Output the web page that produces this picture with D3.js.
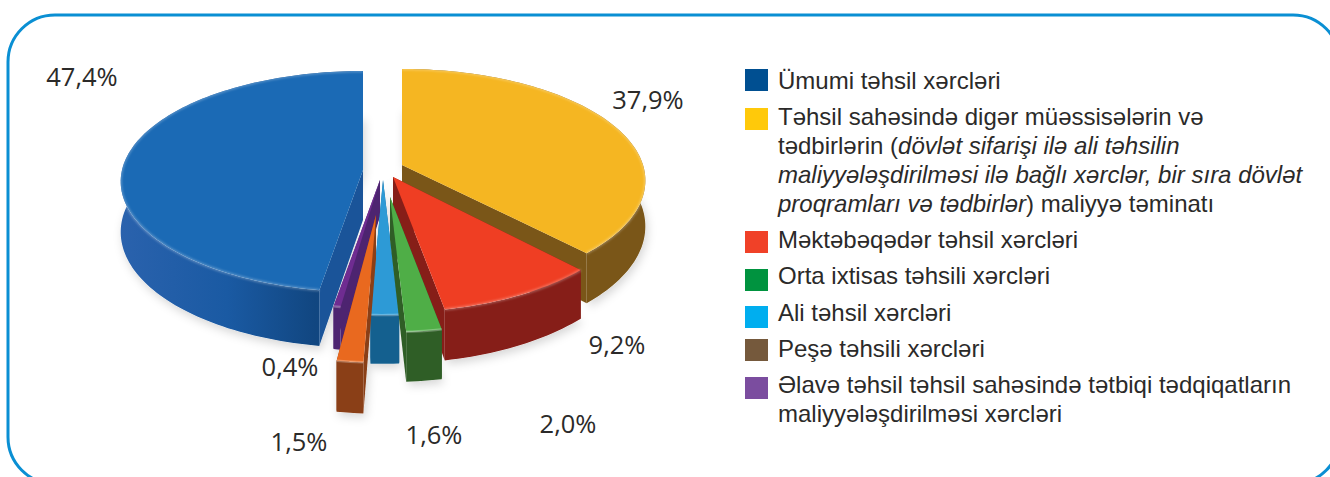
<!DOCTYPE html>
<html lang="az">
<head>
  <meta charset="UTF-8" />
  <script src="https://d3js.org/d3.v7.min.js"></script>
  <title>Təhsil xərcləri</title>
  <style>
    html, body { margin: 0; padding: 0; background: #fff; overflow: hidden; }
    svg { display: block; }
  </style>
</head>
<body>
<script type="text/javascript">
	// pie data, clockwise from 12 o'clock
	var sliceNames = ["yellow", "red", "green", "lightblue", "orange", "purple", "blue"];
	var sliceValues = [37.9, 9.2, 2.0, 1.6, 1.5, 0.4, 47.4];

	// legend
	var legendColors = ["#004f91", "#ffc90a", "#f04128", "#00933f", "#00aeef", "#75593c", "#7b4d9f"];
	var legendLines = [
		[[["Ümumi təhsil xərcləri", 0]]],
		[[["Təhsil sahəsində digər müəssisələrin və", 0]],
		 [["tədbirlərin (", 0], ["dövlət sifarişi ilə ali təhsilin", 1]],
		 [["maliyyələşdirilməsi ilə bağlı xərclər, bir sıra dövlət", 1]],
		 [["proqramları və tədbirlər", 1], [") maliyyə təminatı", 0]]],
		[[["Məktəbəqədər təhsil xərcləri", 0]]],
		[[["Orta ixtisas təhsili xərcləri", 0]]],
		[[["Ali təhsil xərcləri", 0]]],
		[[["Peşə təhsili xərcləri", 0]]],
		[[["Əlavə təhsil təhsil sahəsində tətbiqi tədqiqatların", 0]],
		 [["maliyyələşdirilməsi xərcləri", 0]]]
	];

	// styling per slice
	var topColors = ["#f5b622", "#ef3e23", "#4fae47", "#2d9ad6", "#e9691f", "#6f2c91", "#1b6ab5"];
	var wallColors = ["#7a5618", "#861e18", "#2f5e26", "#14608f", "#8a3f17", "#4d2470", "#1a5499"];
	var apexX = [402, 393, 390, 383, 376, 380, 363];
	var apexY = [165, 177, 197, 180, 215, 180, 170];
	var radiusY = [109.4, 113.6, 113.6, 113.6, 124, 108, 109.3];
	var persp = [0.139, 0.159, 0.159, 0.159, 0.159, 0.159, 0.104];
	var depth = [45, 43, 42, 41, 43, 36, 50];
	var labelX = [648, 617, 568, 434, 299, 290, 82];
	var labelY = [109, 354, 433, 444, 451, 376, 86];
	var drawOrder = [6, 0, 1, 5, 3, 2, 4];

	var width = 1330; var height = 477;
	var radiusX = 241;

	var svg = d3.select("body").append("svg").attr("width", width).attr("height", height);
	var defs = svg.append("defs");

	defs.append("filter").attr("id", "soft").attr("x", "-20%").attr("y", "-20%").attr("width", "140%").attr("height", "140%")
		.append("feDropShadow").attr("dx", 2).attr("dy", 4).attr("stdDeviation", 5)
		.attr("flood-color", "#000").attr("flood-opacity", 0.16);
	defs.append("filter").attr("id", "blur1").append("feGaussianBlur").attr("stdDeviation", 1.1);

	var wallGrad = defs.append("linearGradient").attr("id", "bigWall")
		.attr("gradientUnits", "userSpaceOnUse").attr("x1", 119).attr("x2", 316).attr("y1", 0).attr("y2", 0);
	wallGrad.append("stop").attr("offset", 0).attr("stop-color", "#2a62ad");
	wallGrad.append("stop").attr("offset", 0.55).attr("stop-color", "#1a5aa3");
	wallGrad.append("stop").attr("offset", 1).attr("stop-color", "#114680");

	// frame runs off the right and bottom of the page
	svg.append("rect").attr("x", 8).attr("y", 15).attr("width", 1332).attr("height", 469).attr("rx", 47).attr("ry", 47)
		.attr("fill", "none").attr("stroke", "#0a8fd3").attr("stroke-width", 3);

	var pie = d3.pie().sort(null).value(function(d){return d;}).startAngle(0).endAngle(2 * Math.PI);
	var arcs = pie(sliceValues);
	var line = d3.line().x(function(d){return d[0];}).y(function(d){return d[1];});

	// tilted view with a little perspective, r is 0..1, angle clockwise from the top
	function project(i, r, angle, z)
	{
		var wx = r * Math.sin(angle);
		var wy = -r * Math.cos(angle);
		var s = 1 / (1 - persp[i] * wy);
		return [apexX[i] + wx * radiusX * s, apexY[i] + wy * radiusY[i] * s + z * s];
	}

	function rim(i, d, z)
	{
		var n = Math.max(2, Math.ceil((d.endAngle - d.startAngle) * 40));
		return d3.range(n + 1).map(function(k){
			return project(i, 1, d.startAngle + (d.endAngle - d.startAngle) * k / n, z);
		});
	}

	var pieG = svg.append("g");
	var shadow = pieG.append("g").attr("filter", "url(#soft)");

	drawOrder.forEach(function(i){
		var d = arcs[i];
		var g = pieG.append("g").attr("class", "slice-" + sliceNames[i]);
		var top = rim(i, d, 0);
		var bottom = rim(i, d, depth[i]);
		var apexTop = project(i, 0, 0, 0);
		var apexBottom = project(i, 0, 0, depth[i]);
		var wallFill = i == 6 ? "url(#bigWall)" : wallColors[i];

		var outline = [apexBottom].concat(bottom, [top[top.length - 1], apexTop, top[0]]);
		shadow.append("path").attr("d", line(outline) + "Z").attr("fill", "#fff");

		// cut faces
		g.append("path").attr("d", line([apexTop, top[0], bottom[0], apexBottom]) + "Z").attr("fill", wallColors[i]);
		g.append("path").attr("d", line([apexTop, top[top.length - 1], bottom[bottom.length - 1], apexBottom]) + "Z").attr("fill", wallColors[i]);
		// outer wall
		g.append("path").attr("d", line(top.concat(bottom.slice().reverse())) + "Z").attr("fill", wallFill);
		// top face
		g.append("path").attr("d", line([apexTop].concat(top)) + "Z").attr("fill", topColors[i]);
		// lighter bevel on the rim
		g.append("path").attr("d", line(top)).attr("fill", "none").attr("stroke", "#fff").attr("stroke-opacity", 0.28)
			.attr("stroke-width", 2.4).attr("filter", i == 6 || i == 0 || i == 1 ? "url(#blur1)" : null);
	});

	// percent labels
	svg.append("g").selectAll("text").data(arcs).enter().append("text")
		.attr("x", function(d, i){return labelX[i];})
		.attr("y", function(d, i){return labelY[i];})
		.attr("text-anchor", "middle")
		.attr("font-family", "'Open Sans'").attr("font-size", 25.5).attr("fill", "#2b2a29")
		.text(function(d){return d.value.toFixed(1).replace(".", ",") + "%";});

	// legend
	var rowTop = [69, 108, 231, 269, 306, 339, 377];
	var rowBase = [89, 125, 248, 284, 321, 357, 393];
	var legend = svg.append("g").attr("font-family", "'Liberation Sans'").attr("font-size", 24).attr("fill", "#2b2a29");
	legendLines.forEach(function(rows, i){
		legend.append("rect").attr("x", 745).attr("y", rowTop[i]).attr("width", 23).attr("height", 22).attr("fill", legendColors[i]);
		rows.forEach(function(parts, j){
			var t = legend.append("text").attr("x", 778).attr("y", rowBase[i] + j * 29);
			parts.forEach(function(p){
				t.append("tspan").attr("font-style", p[1] ? "italic" : "normal").text(p[0]);
			});
		});
	});
</script>
</body>
</html>
